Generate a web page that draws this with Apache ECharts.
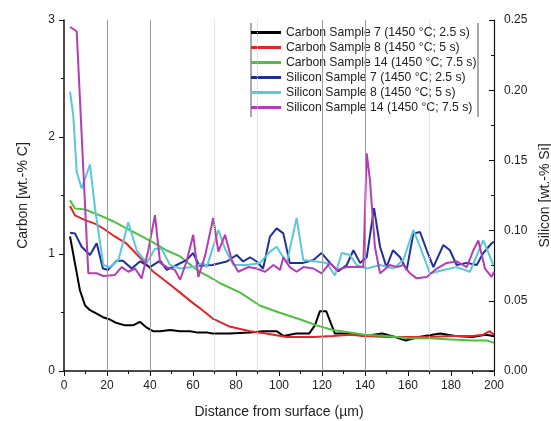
<!DOCTYPE html>
<html>
<head>
<meta charset="utf-8">
<script src="https://cdn.jsdelivr.net/npm/echarts@6/dist/echarts.min.js"></script>
<style>
  html, body { margin: 0; padding: 0; background: #fff; }
  #chartWrapper { width: 551px; height: 421px; }
</style>
</head>
<body>
<div id="chartWrapper"></div>
<script>
// 數據 [距離 µm, 含量]
const carbon7 = [[2.8,1.15],[5.1,0.92],[7.4,0.69],[9.8,0.56],[12.1,0.52],[15.2,0.49],[18.1,0.46],[21.4,0.44],[24.5,0.41],[28.4,0.39],[32.1,0.39],[35.3,0.42],[38.5,0.37],[41.4,0.34],[44.7,0.34],[49.3,0.35],[54,0.34],[58.6,0.34],[61.7,0.33],[66.4,0.33],[69,0.32],[77,0.32],[86.5,0.33],[92.6,0.34],[99,0.34],[102,0.3],[108,0.32],[114,0.32],[116.7,0.39],[119,0.51],[122,0.51],[126,0.32],[131.5,0.32],[140,0.3],[148,0.32],[154,0.29],[159,0.26],[165,0.29],[175,0.32],[182,0.3],[190,0.29],[196,0.31],[200,0.3]]
const carbon8 = [[2.8,1.41],[5.1,1.33],[9.8,1.29],[14.4,1.26],[18.1,1.22],[22.8,1.16],[29,1.09],[35.3,0.97],[41.4,0.85],[47.8,0.76],[54,0.67],[60,0.58],[63,0.54],[67,0.48],[69,0.45],[77,0.38],[86.5,0.34],[94,0.32],[103.6,0.29],[116,0.29],[125,0.3],[133,0.31],[140,0.3],[150,0.29],[160,0.29],[170,0.29],[180,0.3],[190,0.3],[195,0.31],[198,0.34],[200,0.31]]
const carbon14 = [[2.8,1.46],[5,1.39],[9.8,1.38],[16.7,1.33],[22.8,1.28],[29,1.22],[35.3,1.16],[41.4,1.1],[47.8,1.03],[54,0.98],[60,0.89],[63,0.85],[67,0.81],[72.6,0.75],[82,0.67],[91,0.56],[100,0.5],[110,0.44],[117.5,0.39],[125,0.35],[133,0.33],[140,0.31],[150,0.3],[160,0.28],[170,0.28],[180,0.27],[190,0.26],[197,0.26],[200,0.24]]
const silicon7 = [[2.8,0.0985],[5.1,0.098],[8.2,0.0885],[12.1,0.0826],[15.2,0.091],[18.1,0.073],[20.5,0.072],[24.5,0.0786],[27.4,0.0786],[31.5,0.073],[35.3,0.078],[40,0.074],[44.7,0.0786],[47.8,0.072],[52.4,0.0755],[57,0.079],[60,0.084],[63,0.075],[69,0.0755],[75.7,0.078],[80.3,0.0826],[83.3,0.078],[86.5,0.081],[89.6,0.078],[92.6,0.073],[95.8,0.0957],[98.9,0.1016],[102,0.098],[105,0.077],[111.3,0.077],[116,0.079],[119.8,0.084],[123.7,0.077],[127.6,0.071],[131.5,0.0755],[134.6,0.086],[137.7,0.077],[140.8,0.081],[144.2,0.116],[147,0.0885],[150,0.074],[153,0.086],[156.3,0.081],[159.4,0.072],[162.5,0.098],[165.6,0.099],[168.7,0.086],[171.8,0.074],[176.4,0.0897],[179.5,0.086],[182.6,0.0755],[187.3,0.077],[192,0.0755],[195,0.084],[198.9,0.091],[200,0.092]]
const silicon8 = [[2.8,0.199],[4.3,0.182],[5.9,0.142],[8.2,0.13],[12.1,0.147],[14.4,0.116],[18.3,0.0755],[21.4,0.074],[25.3,0.079],[29.9,0.106],[33.8,0.086],[38.5,0.077],[42.3,0.087],[45.4,0.087],[49.3,0.0755],[54,0.073],[60,0.074],[64.8,0.077],[66.4,0.074],[71.8,0.1004],[74.9,0.087],[78.8,0.0755],[85,0.0755],[91.2,0.077],[95.8,0.085],[98.9,0.0885],[103.6,0.077],[108.2,0.109],[111.3,0.079],[117.5,0.078],[122.2,0.077],[126,0.068],[129.2,0.084],[133,0.0826],[136.1,0.0755],[140.8,0.073],[147,0.0755],[153.2,0.073],[157.8,0.079],[162.5,0.1004],[165.6,0.0885],[170.2,0.0695],[176.4,0.072],[182.6,0.074],[188.8,0.0707],[195,0.093],[199.7,0.0755]]
const silicon14 = [[2.8,0.245],[5.9,0.242],[11.3,0.0696],[15.2,0.0696],[18.3,0.0677],[23.7,0.0684],[26.8,0.074],[29.9,0.0707],[33,0.073],[36.1,0.066],[39.2,0.086],[42.3,0.111],[44.7,0.077],[47.8,0.074],[51.6,0.072],[54,0.065],[57,0.078],[60.1,0.097],[62.5,0.067],[65.6,0.082],[69.4,0.109],[71.8,0.085],[74.9,0.097],[78,0.079],[81,0.0707],[85.7,0.074],[89.6,0.073],[93.5,0.0707],[97.4,0.0755],[100.5,0.072],[102,0.081],[105,0.074],[108.2,0.0707],[111.3,0.074],[116,0.073],[119.8,0.0696],[123.7,0.077],[126.8,0.072],[131.5,0.074],[136.1,0.074],[139.2,0.074],[140.8,0.155],[142.3,0.136],[144.6,0.0885],[147,0.0696],[151.6,0.0755],[154.7,0.074],[157.8,0.0755],[160.9,0.0696],[164,0.066],[168.7,0.067],[173.4,0.073],[178,0.077],[182.6,0.078],[187.3,0.074],[190.4,0.086],[192.7,0.093],[195.8,0.073],[198.9,0.067],[200,0.0707]]

const seriesNames = [
	"Carbon Sample 7 (1450 °C; 2.5 s)",
	"Carbon Sample 8 (1450 °C; 5 s)",
	"Carbon Sample 14 (1450 °C; 7.5 s)",
	"Silicon Sample 7 (1450 °C; 2.5 s)",
	"Silicon Sample 8 (1450 °C; 5 s)",
	"Silicon Sample 14 (1450 °C; 7.5 s)",
]
const seriesData = [carbon7, carbon8, carbon14, silicon7, silicon8, silicon14]
const colors = ["#000000", "#e3242b", "#4cc23c", "#1f2f98", "#5ac8dc", "#b43db6"]

// 垂直格線
const gridSolid = [20, 40, 120, 140]
const gridDotted = [70, 90, 170]

const font = "'Liberation Sans', Arial, sans-serif"
const myChart = echarts.init(document.getElementById("chartWrapper"))

let series = seriesData.map((data, index) => {
	return {
		name: seriesNames[index],
		type: "line",
		yAxisIndex: index < 3 ? 0 : 1, // 前三條為碳, 後三條為矽
		data: data,
		showSymbol: false,
		z: 3,
		lineStyle: { color: colors[index], width: 2 },
		itemStyle: { color: colors[index] },
	}
})

// 格線用的空系列
series.unshift({
	name: "grid",
	type: "line",
	data: [],
	z: 1,
	silent: true,
	markLine: {
		silent: true,
		symbol: "none",
		label: { show: false },
		data: [
			...gridSolid.map(v => ({ xAxis: v, lineStyle: { color: "#9a9a9a", width: 1, type: "solid" } })),
			...gridDotted.map(v => ({ xAxis: v, lineStyle: { color: "#cfcfcf", width: 1, type: "dotted" } })),
		],
	},
})

const axisText = { color: "#222", fontFamily: font, fontSize: 12 }
const nameText = { color: "#222", fontFamily: font, fontSize: 14 }

let option = {
	animation: false,
	backgroundColor: "#fff",
	grid: { left: 64, top: 20, width: 430, height: 351, outerBoundsMode: "none", containLabel: false },
	legend: {
		data: seriesNames,
		orient: "vertical",
		left: 251,
		top: 26,
		padding: 0,
		itemGap: 2,
		itemWidth: 30,
		itemHeight: 3,
		icon: "rect",
		textStyle: { color: "#222", fontFamily: font, fontSize: 12.2, lineHeight: 13 },
	},
	graphic: [
		{ type: "line", shape: { x1: 251, y1: 23, x2: 251, y2: 117 }, style: { stroke: "#555", lineWidth: 1 } },
		{ type: "line", shape: { x1: 478, y1: 23, x2: 478, y2: 117 }, style: { stroke: "#555", lineWidth: 1 } },
	],
	xAxis: {
		type: "value",
		min: 0,
		max: 200,
		interval: 20,
		name: "Distance from surface (µm)",
		nameLocation: "middle",
		nameGap: 34,
		nameTextStyle: nameText,
		axisLine: { onZero: false, lineStyle: { color: "#111", width: 1.5 } },
		axisTick: { length: 5, lineStyle: { color: "#111" } },
		minorTick: { show: true, splitNumber: 2, length: 3, lineStyle: { color: "#111" } },
		axisLabel: { ...axisText, margin: 9 },
		splitLine: { show: false },
	},
	yAxis: [
		{
			type: "value",
			min: 0,
			max: 3,
			interval: 1,
			name: "Carbon [wt.-% C]",
			nameLocation: "middle",
			nameRotate: 90,
			nameGap: 34,
			nameTextStyle: nameText,
			axisLine: { show: true, onZero: false, lineStyle: { color: "#111", width: 1.5 } },
			axisTick: { show: true, length: 5, lineStyle: { color: "#111" } },
			minorTick: { show: true, splitNumber: 2, length: 3, lineStyle: { color: "#111" } },
			axisLabel: { ...axisText, margin: 9 },
			splitLine: { show: false },
		},
		{
			type: "value",
			min: 0,
			max: 0.25,
			interval: 0.05,
			position: "right",
			name: "Silicon [wt.-% Si]",
			nameLocation: "middle",
			nameRotate: 90,
			nameGap: 41,
			nameTextStyle: nameText,
			axisLine: { show: true, onZero: false, lineStyle: { color: "#111", width: 1.2 } },
			axisTick: { show: true, inside: true, length: 5, lineStyle: { color: "#111" } },
			minorTick: { show: true, splitNumber: 2, length: 3, lineStyle: { color: "#111" } },
			axisLabel: { ...axisText, margin: 10, formatter: v => v.toFixed(2) },
			splitLine: { show: false },
		},
	],
	series: series,
}

myChart.setOption(option)
</script>
</body>
</html>
